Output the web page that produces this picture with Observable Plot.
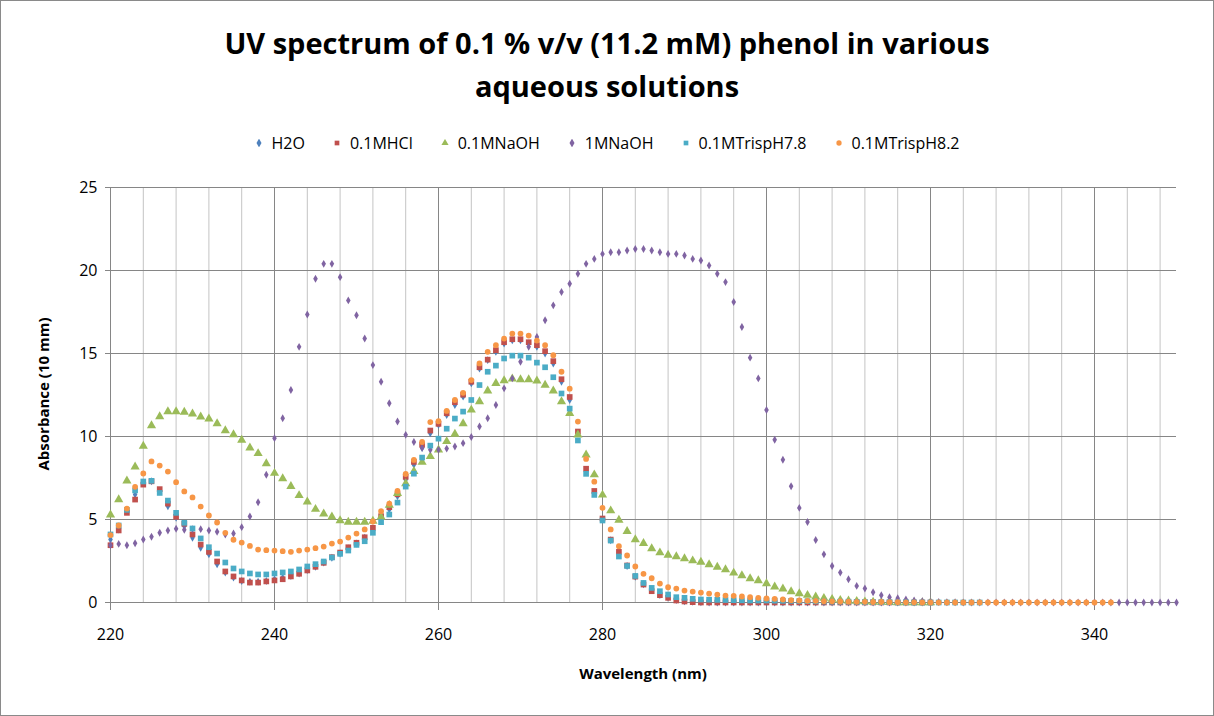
<!DOCTYPE html>
<html><head><meta charset="utf-8">
<script src="https://cdn.jsdelivr.net/npm/d3@7"></script>
<script src="https://cdn.jsdelivr.net/npm/@observablehq/plot@0.6"></script>
<style>
body{margin:0;background:#fff;font-family:"Open Sans",sans-serif;}
#wrap{position:relative;width:1214px;height:716px;box-sizing:border-box;border:1px solid #8a8a8a;overflow:hidden;}
#title{position:absolute;top:20px;left:0;width:1212px;text-align:center;font-weight:bold;font-size:29px;line-height:43px;color:#000;}
#legend{position:absolute;top:131px;left:0;width:1212px;display:flex;justify-content:center;gap:28px;font-size:16px;color:#000;}
#legend span.i{display:flex;align-items:center;gap:9px;}
#ylab{position:absolute;left:42px;top:393px;transform:translate(-50%,-50%) rotate(-90deg);font-weight:bold;font-size:15px;white-space:nowrap;}
#xlab{position:absolute;top:662px;left:0;width:1284px;text-align:center;font-weight:bold;font-size:15px;}
#chart{position:absolute;top:160px;left:0;}
</style></head>
<body><div id="wrap">
<div id="title">UV spectrum of 0.1 % v/v (11.2 mM) phenol in various<br>aqueous solutions</div>
<div id="legend"></div>
<div id="chart"></div>
<div id="ylab">Absorbance (10 mm)</div>
<div id="xlab">Wavelength (nm)</div>
</div>
<script>
const startWavelength = 220;
const seriesNames = ["H2O","0.1MHCl","0.1MNaOH","1MNaOH","0.1MTrispH7.8","0.1MTrispH8.2"];
const seriesColors = ["#4F81BD","#C0504D","#9BBB59","#8064A2","#4BACC6","#F79646"];
const seriesSymbols = ["diamond","square","triangle","diamond","square","circle"];
const xTicks = [220,240,260,280,300,320,340];
const yTicks = [0,5,10,15,20,25];

const h2o = [3.8,4.4,5.5,6.5,7.2,7.3,6.7,5.8,5.1,4.6,3.9,3.3,2.9,2.3,1.8,1.5,1.3,1.25,1.25,1.3,
 1.4,1.5,1.6,1.75,1.95,2.15,2.4,2.7,2.95,3.25,3.55,3.9,4.4,5.1,5.6,6.4,7.4,8.3,9.3,10.2,
 10.7,11.3,11.9,12.4,13.2,14.1,14.6,15.1,15.6,15.8,15.8,15.6,15.4,15.0,14.4,13.3,12.2,10.2,7.9,6.6,
 5.0,3.75,3.0,2.2,1.55,1.1,0.75,0.45,0.3,0.15,0.08,0.04,0.02,0,0,0,0,0,0,0,
 0,0,0,0,0,0,0,0,0,0,0,0,0,0,0,0,0,0,0,0,0];
const hcl = [3.45,4.34,5.4,6.2,7.1,7.3,6.83,5.96,5.16,4.74,4.1,3.49,3.05,2.47,1.87,1.57,1.33,1.2,1.2,1.27,
 1.33,1.4,1.57,1.73,1.93,2.15,2.39,2.73,3.01,3.33,3.6,3.93,4.5,5.2,5.74,6.52,7.57,8.47,9.5,10.36,
 10.76,11.4,12.07,12.52,13.3,14.17,14.63,15.2,15.68,15.86,15.86,15.68,15.5,15.14,14.54,13.45,12.38,10.3,8.06,6.72,
 5.06,3.79,3.05,2.23,1.56,1.08,0.68,0.44,0.28,0.12,0.06,0.02,0,0,0,0,0,0,0,0,
 0,0,0,0,0,0,0,0,0,0,0,0,0,0,0,0,0,0,0,0,0];
const naoh = [5.28,6.2,7.33,8.17,9.42,10.66,11.2,11.5,11.5,11.47,11.37,11.18,11.06,10.78,10.36,10.12,9.78,9.32,8.98,8.37,
 7.79,7.47,7.0,6.45,6.06,5.62,5.34,5.16,4.94,4.84,4.84,4.84,4.9,5.15,5.86,6.58,7.16,7.9,8.45,8.8,
 9.2,9.7,10.15,10.78,11.6,12.1,12.75,13.2,13.37,13.47,13.43,13.43,13.35,13.1,12.75,12.1,11.4,10.1,8.9,7.7,
 6.48,5.53,4.97,4.29,3.79,3.57,3.25,3.0,2.86,2.77,2.65,2.52,2.43,2.29,2.13,1.98,1.78,1.62,1.44,1.32,
 1.14,0.94,0.82,0.66,0.54,0.44,0.34,0.26,0.2,0.14,0.1,0.08,0.05,0.03,0.02,0.01,0,0,0,0,0];
const naoh1M = [3.45,3.53,3.45,3.57,3.8,3.96,4.2,4.34,4.44,4.38,4.42,4.42,4.34,4.26,4.1,4.16,4.54,5.18,6.04,7.7,
 9.9,11.1,12.8,15.4,17.35,19.5,20.4,20.4,19.6,18.2,17.3,15.9,14.3,13.3,12.0,10.9,10.1,9.67,9.32,9.2,
 9.2,9.27,9.4,9.6,9.97,10.6,11.1,11.9,12.9,13.5,14.5,15.4,16.0,17.0,17.9,18.7,19.2,19.8,20.4,20.7,
 21.0,21.1,21.1,21.2,21.3,21.3,21.2,21.1,21.0,21.0,20.9,20.7,20.6,20.3,19.8,19.3,18.1,16.6,14.75,13.5,
 11.6,9.8,8.6,7.0,5.7,4.85,3.77,2.9,2.2,1.8,1.4,1.0,0.84,0.62,0.44,0.32,0.26,0.18,0.12,0.08,
 0.05,0.03,0.02,0.01,0,0,0,0,0,0,0,0,0,0,0,0,0,0,0,0,
 0,0,0,0,0,0,0,0,0,0,0];
const tris78 = [4.1,4.64,5.58,6.75,7.29,7.33,6.6,6.14,5.4,4.8,4.46,3.86,3.33,2.95,2.41,2.05,1.87,1.75,1.69,1.69,
 1.75,1.81,1.87,1.99,2.17,2.31,2.47,2.71,2.93,3.13,3.47,3.69,4.2,4.84,5.3,6.02,6.98,7.76,8.73,9.45,
 9.87,10.47,11.08,11.5,12.2,13.1,13.9,14.27,14.7,14.87,14.87,14.75,14.45,14.17,13.57,12.59,11.68,9.76,7.75,6.48,
 4.94,3.73,2.77,2.2,1.6,1.18,0.88,0.68,0.48,0.32,0.28,0.22,0.18,0.17,0.16,0.15,0.14,0.13,0.12,0.12,
 0.12,0.11,0.1,0.1,0.09,0.08,0.07,0.06,0.05,0.05,0.05,0.04,0.03,0.03,0.02,0.02,0.01,0.01,0,0,
 0,0,0,0,0,0,0];
const tris82 = [4.06,4.64,5.66,6.97,7.77,8.5,8.25,7.89,7.25,6.69,6.33,5.78,5.24,4.82,4.2,3.78,3.61,3.41,3.19,3.15,
 3.13,3.09,3.05,3.13,3.19,3.27,3.37,3.55,3.67,3.91,4.15,4.4,4.88,5.5,5.96,6.72,7.74,8.59,9.67,10.87,
 10.92,11.54,12.2,12.63,13.4,14.4,15.1,15.5,15.9,16.2,16.2,16.08,15.78,15.5,14.9,13.9,12.88,10.9,8.65,7.28,
 5.7,4.4,3.39,2.83,2.17,1.73,1.46,1.14,0.92,0.84,0.72,0.66,0.6,0.54,0.48,0.42,0.4,0.36,0.32,0.28,
 0.24,0.22,0.18,0.14,0.12,0.1,0.1,0.08,0.07,0.06,0.05,0.04,0.04,0.03,0.03,0.02,0.02,0.01,0.01,0,
 0,0,0,0,0,0,0,0,0,0,0,0,0,0,0,0,0,0,0,0,0,0,0];

const allSeries = [h2o,hcl,naoh,naoh1M,tris78,tris82];

const leg = document.getElementById("legend");
seriesNames.forEach((n,i)=>{
  const sp=document.createElement("span");sp.className="i";
  const sym=d3.symbol(({diamond:d3.symbolDiamond,square:d3.symbolSquare,triangle:d3.symbolTriangle,circle:d3.symbolCircle})[seriesSymbols[i]],22)();
  sp.innerHTML=`<svg width="8" height="8" viewBox="-4 -4 8 8"><path d="${sym}" fill="${seriesColors[i]}"/></svg>${n}`;
  leg.appendChild(sp);
});

const marks = [
  Plot.ruleX(d3.range(220,351,4),{stroke:"#c4c4c4",strokeWidth:1}),
  Plot.ruleX(xTicks,{stroke:"#868686",strokeWidth:1}),
  Plot.ruleY(yTicks.slice(1),{stroke:"#868686",strokeWidth:1}),
  Plot.axisY({ticks:yTicks,tickSize:5,tickPadding:8,fontSize:16,label:null,stroke:"#868686"}),
  Plot.axisX({ticks:xTicks,tickSize:8,tickPadding:18,fontSize:16,label:null,stroke:"#868686",tickFormat:d=>String(d)}),
  Plot.ruleY([0],{stroke:"#868686"}),
  Plot.ruleX([220],{stroke:"#868686"})
];
allSeries.forEach((arr,i)=>{
  const rows = arr.map((v,k)=>({x:startWavelength+k,y:v}));
  const r = seriesSymbols[i]==="square"?3.2:(seriesSymbols[i]==="triangle"?3.4:(seriesSymbols[i]==="circle"?2.9:2.4));
  marks.push(Plot.dot(rows,{x:"x",y:"y",symbol:()=>seriesSymbols[i],r,fill:seriesColors[i],stroke:"none"}));
});

const chart = Plot.plot({
  width:1212, height:556,
  marginTop:26, marginBottom:115, marginLeft:109, marginRight:37,
  x:{domain:[220,350]}, y:{domain:[0,25]},
  symbol:{type:"identity"},
  style:{fontFamily:"Open Sans, sans-serif",color:"#000",background:"transparent"},
  marks
});
document.getElementById("chart").appendChild(chart);
</script>
</body></html>
